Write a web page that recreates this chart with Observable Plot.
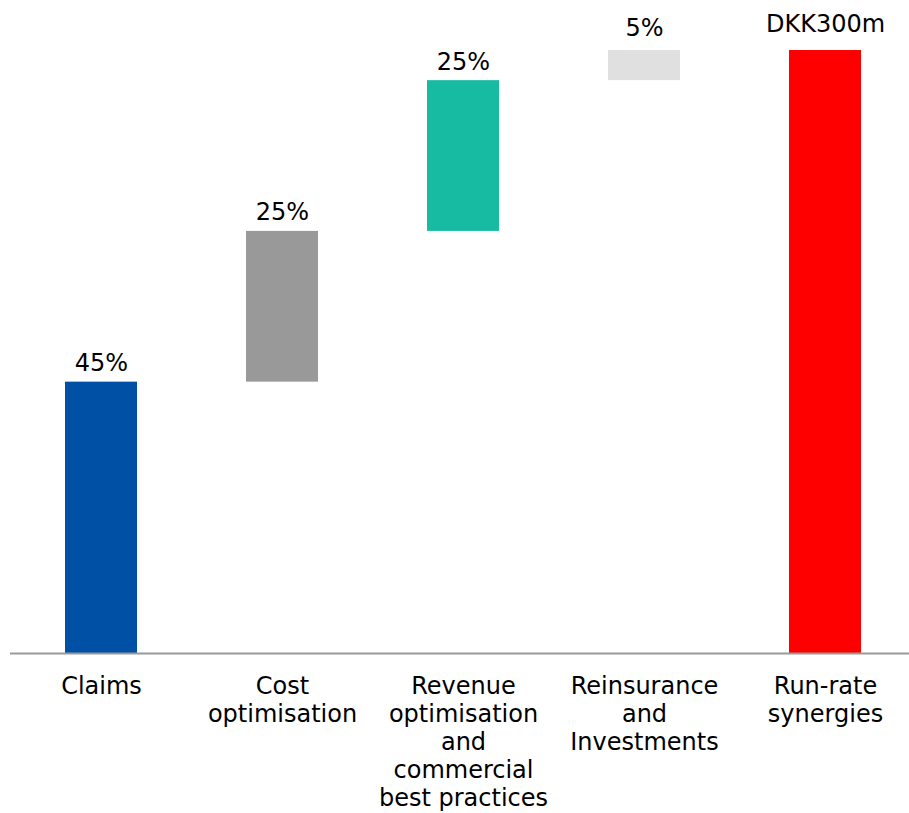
<!DOCTYPE html>
<html>
<head>
<meta charset="utf-8">
<script src="https://cdn.jsdelivr.net/npm/d3@7"></script>
<script src="https://cdn.jsdelivr.net/npm/@observablehq/plot@0.6"></script>
<style>
  html, body { margin: 0; padding: 0; background: #fff; }
  #chart svg { display: block; }
</style>
</head>
<body>
<div id="chart"></div>
<script>
const categories = ["Claims", "Cost optimisation", "Revenue optimisation and commercial best practices", "Reinsurance and Investments", "Run-rate synergies"];
const tickLabels = ["Claims", "Cost\noptimisation", "Revenue\noptimisation\nand\ncommercial\nbest practices", "Reinsurance\nand\nInvestments", "Run-rate\nsynergies"];
const shares = [45, 25, 25, 5, 100];
const valueLabels = ["45%", "25%", "25%", "5%", "DKK300m"];
const isTotal = [false, false, false, false, true];
const colors = ["#0051A5", "#999999", "#17BBA1", "#E0E0E0", "#FF0000"];

let cum = 0;
const rows = categories.map((c, i) => {
  let y1, y2;
  if (isTotal[i]) { y1 = 0; y2 = shares[i]; }
  else { y1 = cum; y2 = cum + shares[i]; cum = y2; }
  return {cat: c, y1, y2, label: valueLabels[i], color: colors[i], idx: i};
});
const labelOf = new Map(categories.map((c, i) => [c, tickLabels[i]]));

const chart = Plot.plot({
  width: 909,
  height: 813,
  marginTop: 50,
  marginBottom: 160,
  marginLeft: 10,
  marginRight: 0,
  style: {fontFamily: "'DejaVu Sans', Verdana, sans-serif", color: "#000", background: "#fff"},
  x: {domain: categories, range: [10, 916], paddingInner: 0.6, paddingOuter: 0.3, label: null},
  y: {domain: [0, 100], axis: null},
  color: {type: "identity"},
  marks: [
    Plot.barY(rows, {x: "cat", y1: "y1", y2: "y2", fill: "color"}),
    Plot.ruleY([0], {stroke: "#999999", strokeWidth: 2}),
    Plot.text(rows.filter(d => d.idx < 3), {x: "cat", y: "y2", text: "label", dy: -11, lineAnchor: "bottom", fontSize: 24, fill: "#000"}),
    Plot.text(rows.filter(d => d.idx === 3), {x: "cat", y: "y2", text: "label", dy: -15, lineAnchor: "bottom", fontSize: 24, fill: "#000"}),
    Plot.text(rows.filter(d => d.idx === 4), {x: "cat", y: "y2", text: "label", dy: -19, lineAnchor: "bottom", fontSize: 24, fill: "#000"}),
    Plot.axisX({tickSize: 0, tickPadding: 21, fontSize: 24, lineHeight: 1.165, lineAnchor: "top", tickFormat: d => labelOf.get(d), label: null, fill: "#000"})
  ]
});
document.getElementById("chart").append(chart);
</script>
</body>
</html>
